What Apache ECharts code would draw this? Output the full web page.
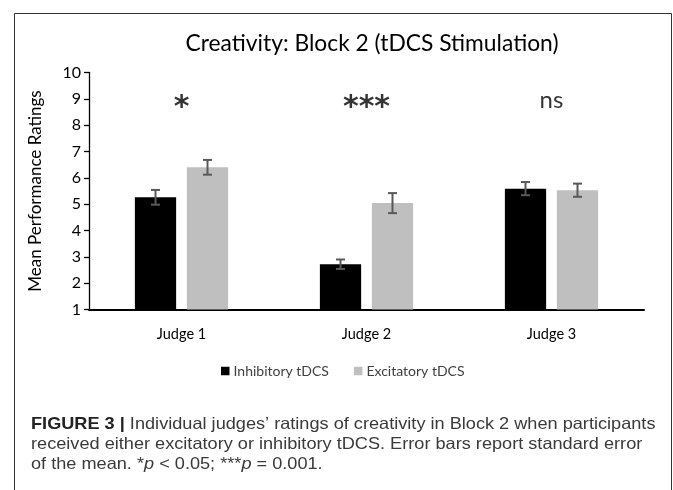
<!DOCTYPE html>
<html>
<head>
<meta charset="utf-8">
<script src="https://cdn.jsdelivr.net/npm/echarts@6/dist/echarts.min.js"></script>
<style>
html,body{margin:0;padding:0;background:#fff;}
#chart{width:673px;height:490px;}
</style>
</head>
<body>
<div id="chart"></div>
<script>
// ---- data ----
var categories = ['Judge 1', 'Judge 2', 'Judge 3'];
var inhibitory = [5.26, 2.72, 5.59];
var inhibitoryErr = [0.28, 0.18, 0.25];
var excitatory = [6.40, 5.04, 5.53];
var excitatoryErr = [0.28, 0.38, 0.25];
var sigLabels = ['*', '***', 'ns'];
var sigLevel = [9, 9, 9];
var seriesNames = ['Inhibitory tDCS', 'Excitatory tDCS'];
var yTicks = {min: 1, max: 10, interval: 1};
var titleText = 'Creativity: Block 2 (tDCS Stimulation)';
var yAxisTitle = 'Mean Performance Ratings';
var captionBold = 'FIGURE 3 |';
var captionLines = [
  ' Individual judges\u2019 ratings of creativity in Block 2 when participants',
  'received either excitatory or inhibitory tDCS. Error bars report standard error',
  'of the mean. *'
];

var chartFont = 'Lato';
var capFont = 'Liberation Sans';
var BAR_W = 0.223, BAR_GAP = 0.26;

function errSeries(vals, errs, sign) {
  return {
    type: 'custom',
    z: 5,
    silent: true,
    data: vals.map(function (v, i) { return [i, v, errs[i]]; }),
    renderItem: function (params, api) {
      var idx = api.value(0), v = api.value(1), e = api.value(2);
      var band = api.size([1, 0])[0];
      var off = sign * band * BAR_W * (1 + BAR_GAP) / 2;
      var top = api.coord([idx, v + e]);
      var bot = api.coord([idx, v - e]);
      var x = top[0] + off, cap = 4.5;
      var st = {stroke: '#595959', lineWidth: 2};
      return {
        type: 'group',
        children: [
          {type: 'line', shape: {x1: x, y1: top[1], x2: x, y2: bot[1]}, style: st},
          {type: 'line', shape: {x1: x - cap, y1: top[1], x2: x + cap, y2: top[1]}, style: st},
          {type: 'line', shape: {x1: x - cap, y1: bot[1], x2: x + cap, y2: bot[1]}, style: st}
        ]
      };
    }
  };
}

var sigData = sigLevel.map(function (v, i) {
  var isStar = sigLabels[i].indexOf('*') >= 0;
  return {
    value: [i, v],
    label: isStar ? {fontFamily: 'DejaVu Sans', fontWeight: 'bold', fontSize: 30, offset: [0, 9]}
                  : {fontFamily: chartFont, fontSize: 24, offset: [0, 1]}
  };
});

var capScale = 1.1;
var chart = echarts.init(document.getElementById('chart'), null, {renderer: 'canvas'});
var option = {
  animation: false,
  backgroundColor: '#fff',
  textStyle: {fontFamily: chartFont},
  title: {
    text: titleText,
    left: 367, top: 27, textAlign: 'center',
    textStyle: {fontFamily: chartFont, fontSize: 22.8, fontWeight: 'normal', color: '#000'}
  },
  legend: {
    left: 216, top: 359,
    icon: 'rect', itemWidth: 8.5, itemHeight: 8.5, itemGap: 25,
    textStyle: {fontFamily: chartFont, fontSize: 14, color: '#404040', padding: [0, 0, 0, -1]},
    data: seriesNames
  },
  grid: {left: 89, right: 29, top: 72.5, bottom: 180.5, containLabel: false},
  xAxis: {
    type: 'category',
    data: categories,
    axisLine: {lineStyle: {color: '#000', width: 2}},
    axisTick: {show: false},
    axisLabel: {fontFamily: chartFont, fontSize: 14.5, color: '#000', margin: 17}
  },
  yAxis: {
    type: 'value',
    min: yTicks.min, max: yTicks.max, interval: yTicks.interval,
    name: yAxisTitle, nameLocation: 'middle', nameRotate: 90, nameGap: 45,
    nameTextStyle: {fontFamily: chartFont, fontSize: 17, color: '#000'},
    axisLine: {show: true, lineStyle: {color: '#000', width: 1.3}},
    axisTick: {show: true, length: 5, lineStyle: {color: '#000', width: 1.3}},
    splitLine: {show: false},
    axisLabel: {fontFamily: chartFont, fontSize: 16, color: '#000', margin: 8}
  },
  series: [
    {name: seriesNames[0], type: 'bar', data: inhibitory, barWidth: (BAR_W * 100) + '%', barGap: (BAR_GAP * 100) + '%',
     itemStyle: {color: '#000'}},
    {name: seriesNames[1], type: 'bar', data: excitatory, barWidth: (BAR_W * 100) + '%',
     itemStyle: {color: '#BFBFBF'}},
    errSeries(inhibitory, inhibitoryErr, -1),
    errSeries(excitatory, excitatoryErr, 1),
    {
      type: 'scatter', symbolSize: 0, silent: true,
      data: sigData,
      label: {
        show: true, position: 'inside',
        formatter: function (p) { return sigLabels[p.dataIndex]; },
        color: '#000'
      }
    }
  ],
  graphic: [
    {type: 'polyline', silent: true, shape: {points: [[14.5, 495], [14.5, 13.5], [671.5, 13.5], [671.5, 495]]},
     style: {stroke: '#333', lineWidth: 1, fill: null}},
    {type: 'text', x: 31, y: 416, scaleX: capScale, silent: true,
     style: {
       text: '{b|' + captionBold + '}{n|' + captionLines[0] + '}',
       rich: {
         b: {fontFamily: capFont, fontSize: 16.5, fontWeight: 'bold', fill: '#222'},
         n: {fontFamily: capFont, fontSize: 16.5, fill: '#3a3a3a'}
       }
     }},
    {type: 'text', x: 31, y: 436, scaleX: capScale, silent: true,
     style: {text: captionLines[1], fontFamily: capFont, fontSize: 16.5, fill: '#3a3a3a'}},
    {type: 'text', x: 31, y: 456, scaleX: capScale, silent: true,
     style: {
       text: '{n|' + captionLines[2] + '}{i|p}{n| < 0.05; ***}{i|p}{n| = 0.001.}',
       rich: {
         n: {fontFamily: capFont, fontSize: 16.5, fill: '#3a3a3a'},
         i: {fontFamily: capFont, fontSize: 16.5, fontStyle: 'italic', fill: '#3a3a3a'}
       }
     }}
  ]
};
chart.setOption(option);
</script>
</body>
</html>
